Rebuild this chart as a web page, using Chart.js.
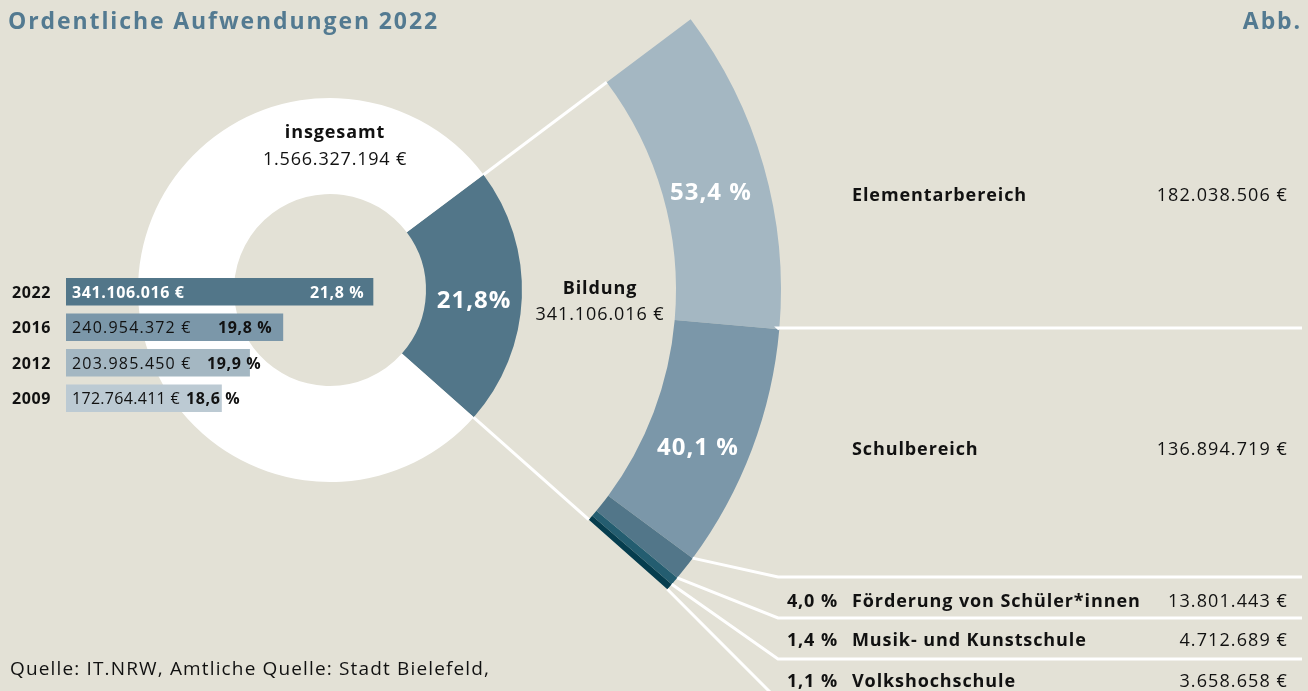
<!DOCTYPE html>
<html lang="de">
<head>
<meta charset="utf-8">
<title>Ordentliche Aufwendungen 2022</title>
<script src="https://cdn.jsdelivr.net/npm/chart.js@4.4.1/dist/chart.umd.min.js"></script>
<style>
  body {
    margin: 0;
    width: 1308px;
    height: 691px;
    overflow: hidden;
    position: relative;
    background: #e3e1d6;
    font-family: "Open Sans", sans-serif;
    color: #111;
  }
  canvas { position: absolute; }
  #rings { left: -650px; top: -161px; z-index: 1; }
  #bars { left: 66px; top: 274px; z-index: 2; }
  .t {
    position: absolute;
    z-index: 3;
    white-space: nowrap;
    line-height: 1;
    font-size: 18px;
    letter-spacing: 1.1px;
    transform: translateY(-50%);
  }
  .c { transform: translate(-50%, -50%); text-align: center; }
  .r { transform: translate(-100%, -50%); }
  .b { font-weight: 700; letter-spacing: 0.9px; }
  .w { color: #fff; }
  .big { font-size: 24px; font-weight: 700; color: #fff; letter-spacing: 1px; }
  .title { font-size: 23px; font-weight: 700; color: #537a91; letter-spacing: 1.9px; }
  .bar-txt { font-size: 16px; letter-spacing: 1.2px; }
  .bar-txt.b { letter-spacing: 0.6px; }
  .year { letter-spacing: 1.3px; }
  .source { font-size: 19px; letter-spacing: 1.15px; }
</style>
</head>
<body>
<canvas id="rings" width="1960" height="902"></canvas>
<canvas id="bars" width="450" height="142"></canvas>

<div class="t title" style="left:8px; top:20px">Ordentliche Aufwendungen 2022</div>
<div class="t title r" style="left:1302px; top:20px">Abb.</div>

<div class="t c b" style="left:335px; top:131px">insgesamt</div>
<div class="t c" id="total-value" style="left:335px; top:158px; letter-spacing:0.8px"></div>

<div class="t c big" id="donut-pct" style="left:474px; top:299px"></div>
<div class="t c b" style="left:600px; top:287px">Bildung</div>
<div class="t c" id="bildung-value" style="left:600px; top:313px; letter-spacing:0.9px"></div>

<div class="t source" style="left:10px; top:668px">Quelle: IT.NRW, Amtliche Quelle: Stadt Bielefeld,</div>

<div id="labels"></div>

<script>
// data
const years = ["2022", "2016", "2012", "2009"];
const bildungValues = [341106016, 240954372, 203985450, 172764411];
const bildungShares = [21.8, 19.8, 19.9, 18.6];
const barColors = ["#527689", "#7b97a9", "#a4b7c2", "#bccad3"];

const totalValue = 1566327194;
const donutLabels = ["Bildung", "übrige Aufwendungen"];
const donutValues = [341106016, 1225221178];
const donutColors = ["#527689", "#ffffff"];

const areaLabels = ["Elementarbereich", "Schulbereich", "Förderung von Schüler*innen", "Musik- und Kunstschule", "Volkshochschule"];
const areaValues = [182038506, 136894719, 13801443, 4712689, 3658658];
const areaShares = [53.4, 40.1, 4.0, 1.4, 1.1];
const areaColors = ["#a4b7c2", "#7b97a9", "#527689", "#245d70", "#063d4e"];

// layout
const ringsLeft = -650, ringsTop = -161;
const startRotation = 53.1;
const rowY = [194, 448, 600, 639, 680];
const rowLineY = [328, 577, 618, 659, 700];
const innerPctPos = [[711, 191], [698, 446]];
const pctLabelX = [310, 218, 207, 186];

function euro(v) {
  return String(v).replace(/\B(?=(\d{3})+(?!\d))/g, ".") + " €";
}
function pct(v, space) {
  return v.toFixed(1).replace(".", ",") + (space ? " %" : "%");
}

document.getElementById("total-value").textContent = euro(totalValue);
document.getElementById("bildung-value").textContent = euro(donutValues[0]);
document.getElementById("donut-pct").textContent = pct(bildungShares[0], false);

const labels = document.getElementById("labels");
function addText(cls, text, x, y) {
  const el = document.createElement("div");
  el.className = "t " + cls;
  el.textContent = text;
  el.style.left = x + "px";
  el.style.top = y + "px";
  labels.appendChild(el);
  return el;
}

areaLabels.forEach((name, i) => {
  addText("b", name, 852, rowY[i]);
  addText("r", euro(areaValues[i]), 1288, rowY[i]);
  if (i < 2) {
    addText("c big", pct(areaShares[i], true), innerPctPos[i][0], innerPctPos[i][1]);
  } else {
    addText("r b", pct(areaShares[i], true), 838, rowY[i]);
  }
});

// white connector lines from the rings to the table rows
const connectors = {
  id: "connectors",
  afterDatasetsDraw(chart) {
    const ctx = chart.ctx;
    const arcs = chart.getDatasetMeta(0).data.map(a =>
      a.getProps(["x", "y", "startAngle", "endAngle", "innerRadius", "outerRadius"], true));
    const slice = chart.getDatasetMeta(2).data[0].getProps(["outerRadius"], true);
    const cx = arcs[0].x, cy = arcs[0].y;
    const pt = (a, r) => [cx + Math.cos(a) * r, cy + Math.sin(a) * r];
    ctx.save();
    ctx.strokeStyle = "#fff";
    ctx.lineWidth = 3;
    [arcs[0].startAngle, arcs[arcs.length - 1].endAngle].forEach(a => {
      ctx.beginPath();
      ctx.moveTo(...pt(a, slice.outerRadius));
      ctx.lineTo(...pt(a, arcs[0].innerRadius));
      ctx.stroke();
    });
    const bounds = arcs.slice(1).map(a => a.startAngle).concat(arcs[arcs.length - 1].endAngle);
    bounds.forEach((a, i) => {
      ctx.beginPath();
      ctx.moveTo(...pt(a, arcs[0].outerRadius));
      ctx.lineTo(778 - ringsLeft, rowLineY[i] - ringsTop);
      ctx.lineTo(1302 - ringsLeft, rowLineY[i] - ringsTop);
      ctx.stroke();
    });
    ctx.restore();
  }
};

new Chart(document.getElementById("rings"), {
  type: "doughnut",
  data: {
    datasets: [
      {
        label: "Bildung",
        data: areaValues,
        backgroundColor: areaColors,
        rotation: startRotation,
        circumference: 360 * bildungShares[0] / 100,
        weight: 105,
      },
      {
        label: "Abstand",
        data: [1],
        backgroundColor: ["rgba(0,0,0,0)"],
        weight: 154,
      },
      {
        label: "insgesamt",
        data: donutValues,
        backgroundColor: donutColors,
        rotation: startRotation,
        weight: 96,
      },
    ],
  },
  options: {
    responsive: false,
    animation: false,
    cutout: 96,
    borderWidth: 0,
    hoverOffset: 0,
    layout: { padding: 0 },
    plugins: { legend: { display: false }, tooltip: { enabled: false } },
    events: [],
  },
  plugins: [connectors],
});

// year bars with their labels
const barLabels = {
  id: "barLabels",
  afterDraw(chart) {
    const box = chart.canvas.getBoundingClientRect();
    chart.getDatasetMeta(0).data.forEach((bar, i) => {
      const y = box.top + bar.y;
      const dark = i === 0;
      addText("b bar-txt year", years[i], 12, y);
      const val = addText((dark ? "b w " : "") + "bar-txt", euro(bildungValues[i]), box.left + bar.base + 6, y);
      // squeeze the amount a little if it would run into the share
      let ls = 1.2;
      while (val.getBoundingClientRect().right > pctLabelX[i] - 6 && ls > 0) {
        ls -= 0.1;
        val.style.letterSpacing = ls + "px";
      }
      addText("b bar-txt" + (dark ? " w" : ""), pct(bildungShares[i], true), pctLabelX[i], y);
    });
  }
};

new Chart(document.getElementById("bars"), {
  type: "bar",
  data: {
    labels: years,
    datasets: [{ data: bildungValues, backgroundColor: barColors, barThickness: 27 }],
  },
  options: {
    indexAxis: "y",
    responsive: false,
    animation: false,
    layout: { padding: 0 },
    scales: {
      x: { display: false, min: 0, max: 500000000 },
      y: { display: false },
    },
    plugins: { legend: { display: false }, tooltip: { enabled: false } },
    events: [],
  },
  plugins: [barLabels],
});
</script>
</body>
</html>
